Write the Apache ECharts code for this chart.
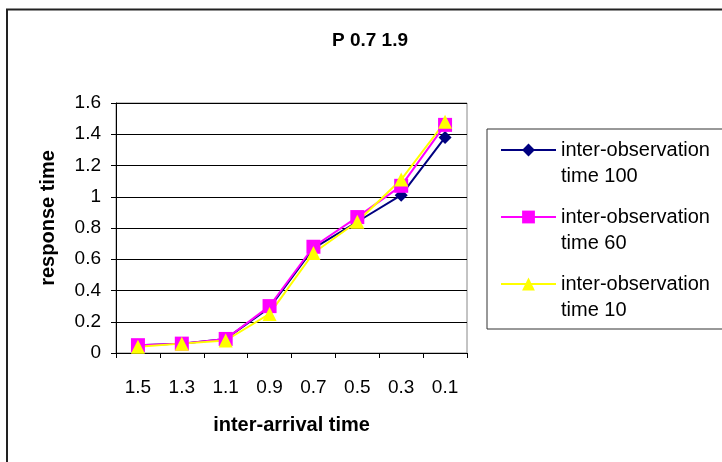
<!DOCTYPE html>
<html><head><meta charset="utf-8">
<script src="https://cdn.jsdelivr.net/npm/echarts@6/dist/echarts.min.js"></script>
<style>html,body{margin:0;padding:0;background:#fff}#c{width:722px;height:462px}</style>
</head><body><div id="c"></div>
<script>
const categories = ['1.5','1.3','1.1','0.9','0.7','0.5','0.3','0.1'];
const s100 = [0.05,0.06,0.09,0.29,0.67,0.84,1.01,1.38];
const s60 = [0.05,0.06,0.09,0.30,0.68,0.87,1.07,1.46];
const s10 = [0.04,0.06,0.08,0.25,0.64,0.84,1.11,1.48];
const names = ['inter-observation\ntime 100','inter-observation\ntime 60','inter-observation\ntime 10'];
const F = 'Arial, "Liberation Sans", sans-serif';
const chart = echarts.init(document.getElementById('c'));
chart.setOption({
  animation:false,
  backgroundColor:'#fff',
  title:{text:'P 0.7 1.9',left:365,top:26,textAlign:'center',textStyle:{fontFamily:F,fontSize:19,fontWeight:'bold',color:'#000'}},
  graphic:[
    {type:'rect',shape:{x:7,y:9.5,width:730,height:470},style:{fill:'none',stroke:'#222',lineWidth:2},z:-1},
    {type:'rect',shape:{x:487,y:129,width:240,height:200},style:{fill:'#fff',stroke:'#333',lineWidth:1},z:0}
  ],
  grid:{left:116,right:255,top:103,bottom:109,show:true,borderColor:'#888',borderWidth:1},
  legend:{orient:'vertical',left:495,top:106,itemWidth:55,itemHeight:16,itemGap:-11,
    formatter:n=>' \n'+n,
    textStyle:{fontFamily:F,fontSize:20,color:'#000',lineHeight:26},z:5},
  xAxis:{type:'category',data:categories,boundaryGap:true,
    name:'inter-arrival time',nameLocation:'middle',nameGap:62,
    nameTextStyle:{fontFamily:F,fontSize:20,fontWeight:'bold',color:'#000'},
    axisLine:{lineStyle:{color:'#000',width:1}},
    axisTick:{show:true,length:5,lineStyle:{color:'#000'}},
    axisLabel:{fontFamily:F,fontSize:19,color:'#000',margin:25}},
  yAxis:{type:'value',min:0,max:1.6,interval:0.2,
    name:'response time',nameLocation:'middle',nameGap:58,
    nameTextStyle:{fontFamily:F,fontSize:20,fontWeight:'bold',color:'#000',padding:[0,0,0,20]},
    axisLine:{show:true,lineStyle:{color:'#000'}},
    axisTick:{show:true,length:5,lineStyle:{color:'#000'}},
    splitLine:{lineStyle:{color:'#000',width:1}},
    axisLabel:{fontFamily:F,fontSize:19,color:'#000',margin:15,formatter:v=>String(+v.toFixed(1))}},
  series:[
    {name:names[0],type:'line',data:s100,symbol:'diamond',symbolSize:13,color:'#000080',lineStyle:{width:2,color:'#000080'},itemStyle:{color:'#000080'}},
    {name:names[1],type:'line',data:s60,symbol:'rect',symbolSize:14,color:'#FF00FF',lineStyle:{width:2,color:'#FF00FF'},itemStyle:{color:'#FF00FF'}},
    {name:names[2],type:'line',data:s10,symbol:'triangle',symbolSize:14,color:'#FFFF00',lineStyle:{width:2,color:'#FFFF00'},itemStyle:{color:'#FFFF00'}}
  ]
});
</script></body></html>
